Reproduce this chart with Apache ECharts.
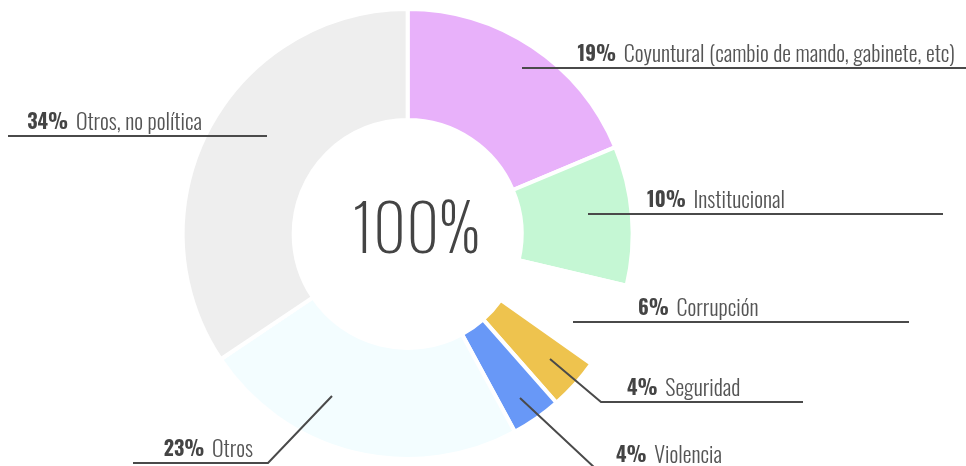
<!DOCTYPE html>
<html>
<head>
<meta charset="utf-8">
<script src="https://cdn.jsdelivr.net/npm/echarts@6/dist/echarts.min.js"></script>
<style>
  html, body { margin: 0; padding: 0; background: #fff; }
  #chart { width: 966px; height: 466px; }
</style>
</head>
<body>
<div id="chart"></div>
<script>
// datos del anillo (en sentido horario desde arriba)
var categories = ['Coyuntural (cambio de mando, gabinete, etc)', 'Institucional', 'Corrupción', 'Seguridad', 'Violencia', 'Otros', 'Otros, no política'];
var shares = [18.7, 10.0, 6.1, 3.7, 3.6, 23.5, 34.4];
var shareLabels = ['19%', '10%', '6%', '4%', '4%', '23%', '34%'];
var totalLabel = '100%';

var colors = ['#e8b1fa', '#c5f7d4', 'rgba(0,0,0,0)', '#eec34e', '#6898f7', '#f3fdff', '#eeeeee'];

// guias de las etiquetas: linea (puntos) y posicion del texto
var guides = [
  { pts: [[522, 68], [700, 68], [966, 68]], tx: 955, align: 'right' },
  { pts: [[588, 214], [700, 214], [943, 214]], tx: 647, align: 'left' },
  { pts: [[573, 322], [700, 322], [909, 322]], tx: 638, align: 'left' },
  { pts: [[550, 359], [601, 402], [803, 402]], tx: 627, align: 'left' },
  { pts: [[520, 398], [596, 469], [800, 469]], tx: 616, align: 'left' },
  { pts: [[332, 396], [268, 463], [133, 463]], tx: 253, align: 'right' },
  { pts: [[267, 136], [100, 136], [8, 136]], tx: 202, align: 'right' }
];

var labelFont = "Oswald, 'Roboto Condensed', sans-serif";

var chartDom = document.getElementById('chart');
var myChart = echarts.init(chartDom, null, { renderer: 'canvas' });

var pieData = categories.map(function (name, i) {
  return {
    name: name,
    value: shares[i],
    itemStyle: { color: colors[i] }
  };
});

var ring = {
  type: 'pie',
  center: ['42.2%', '50.2%'],
  radius: [114, 225],
  startAngle: 90,
  clockwise: true,
  avoidLabelOverlap: false,
  silent: true
};

var option = {
  backgroundColor: '#fff',
  animation: false,
  graphic: [{
    type: 'text',
    x: 416,
    y: 233,
    style: {
      text: totalLabel,
      font: '200 64px Oswald, sans-serif',
      fill: '#444',
      align: 'center',
      verticalAlign: 'middle'
    }
  }],
  series: [
    // anillo de colores
    Object.assign({}, ring, {
      z: 2,
      itemStyle: { borderColor: '#fff', borderWidth: 4 },
      label: { show: false },
      labelLine: { show: false },
      data: pieData
    }),
    // copia transparente encima para las etiquetas y sus lineas
    Object.assign({}, ring, {
      z: 3,
      itemStyle: { color: 'rgba(0,0,0,0)', borderWidth: 0 },
      label: {
        show: true,
        position: 'outside',
        formatter: function (p) {
          return '{p|' + shareLabels[p.dataIndex] + '}  {n|' + p.name + '}';
        },
        rich: {
          p: { fontFamily: labelFont, fontWeight: 700, fontSize: 20, color: '#444', lineHeight: 26, padding: [0, 1, 0, 0] },
          n: { fontFamily: labelFont, fontWeight: 300, fontSize: 22, color: '#555', lineHeight: 26 }
        }
      },
      labelLine: {
        show: true,
        lineStyle: { color: '#4a4a4a', width: 2 }
      },
      labelLayout: function (params) {
        var g = guides[params.dataIndex];
        var lineY = g.pts[2][1];
        return {
          x: g.tx,
          y: lineY,
          align: g.align,
          verticalAlign: 'bottom',
          labelLinePoints: g.pts
        };
      },
      data: categories.map(function (name, i) {
        return { name: name, value: shares[i] };
      })
    })
  ]
};

myChart.setOption(option);
</script>
</body>
</html>
